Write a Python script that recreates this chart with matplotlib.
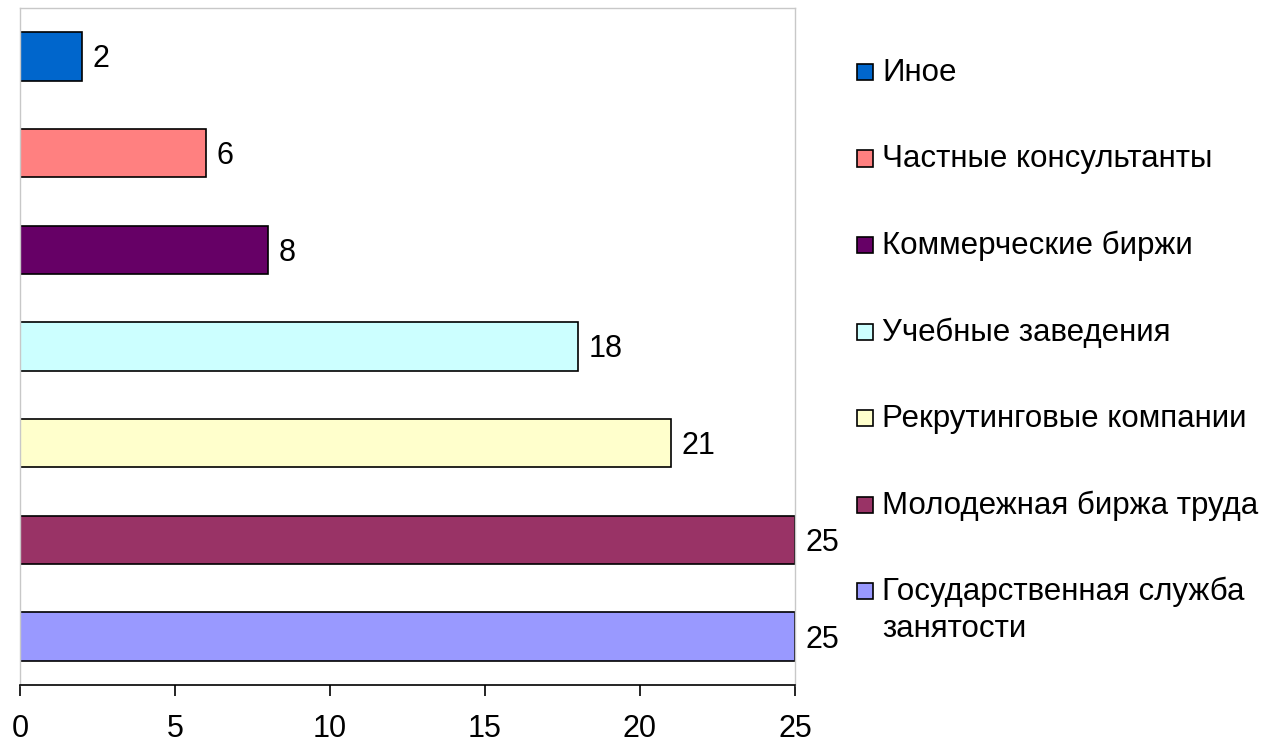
import matplotlib
matplotlib.use("Agg")
import matplotlib.pyplot as plt
from matplotlib.patches import Rectangle

# --- data (top to bottom as shown) ---
categories = [
    "Иное",
    "Частные консультанты",
    "Коммерческие биржи",
    "Учебные заведения",
    "Рекрутинговые компании",
    "Молодежная биржа труда",
    "Государственная служба\nзанятости",
]
values = [2, 6, 8, 18, 21, 25, 25]
colors = ["#0066CC", "#FF8080", "#660066", "#CCFFFF", "#FFFFCC", "#993366", "#9999FF"]
x_ticks = [0, 5, 10, 15, 20, 25]

W, H = 1261, 749
plt.rcParams["font.family"] = ["Liberation Sans", "DejaVu Sans"]

fig = plt.figure(figsize=(W / 100, H / 100), dpi=100)
ax = fig.add_axes([20 / W, 1 - 685 / H, 775 / W, 677 / H])

ypos = list(range(len(categories)))
for y, v, c in zip(ypos, values, colors):
    ax.barh(y, v, height=0.5, color=c, edgecolor="black", linewidth=1.2)
    ax.text(v + 0.35, y + 0.03, str(v), va="center", ha="left", fontsize=22)

ax.set_xlim(0, 25)
ax.set_ylim(len(categories) - 0.5, -0.5)
ax.set_xticks(x_ticks)
ax.tick_params(axis="x", direction="out", length=8, width=1.2, pad=13, labelsize=22)
ax.set_yticks([])

for side in ("left", "top", "right"):
    ax.spines[side].set_color("#c8c8c8")
    ax.spines[side].set_linewidth(1.0)
ax.spines["bottom"].set_color("black")
ax.spines["bottom"].set_linewidth(1.2)

# legend drawn by hand so the wrapped label keeps its box on the first line
leg_top, leg_step = 72, 86.5
for i, (c, lab) in enumerate(zip(colors, categories)):
    yc = 1 - (leg_top + i * leg_step) / H
    fig.add_artist(Rectangle((857 / W, yc - 8 / H), 16 / W, 16 / H,
                             facecolor=c, edgecolor="black", linewidth=1.2,
                             transform=fig.transFigure))
    fig.text(882 / W, yc + 14 / H, lab, va="top", ha="left",
             fontsize=22.5, linespacing=1.3)

fig.savefig("out.png", dpi=100)
